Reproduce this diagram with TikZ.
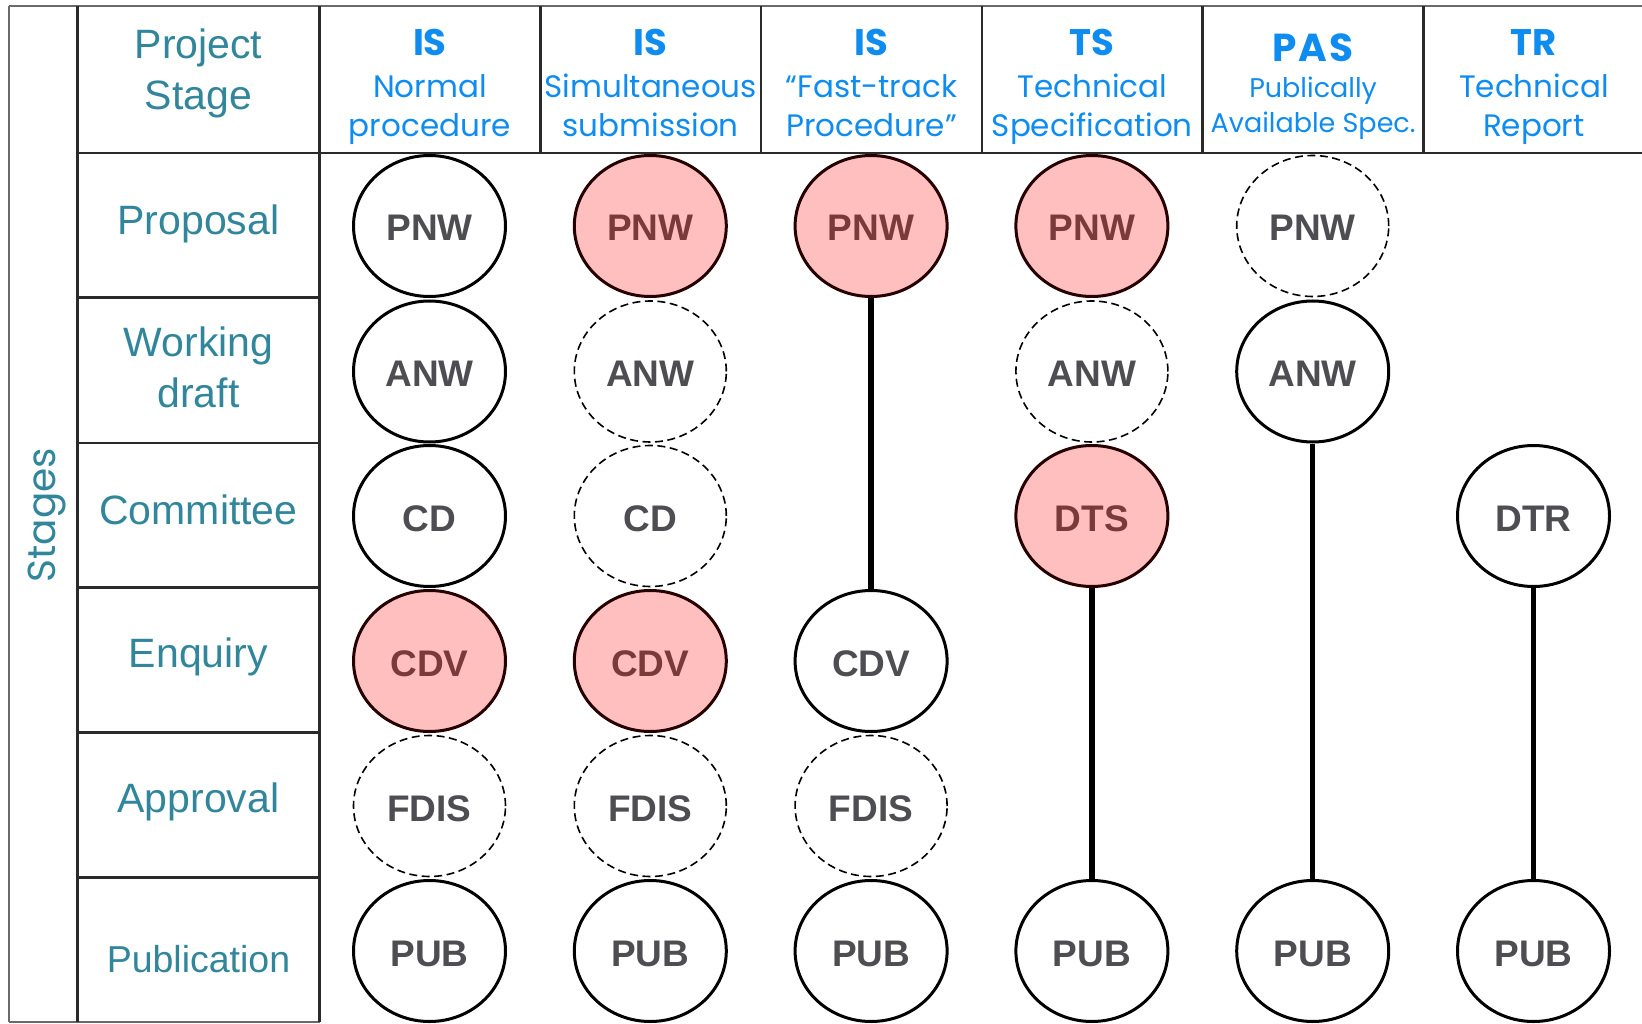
\documentclass[tikz,border=0pt]{standalone}
\usepackage{fontspec}
\setmainfont{Liberation Sans}
\newfontfamily\geo{Poppins}
\usetikzlibrary{shapes.geometric}

\definecolor{stageteal}{HTML}{31869B}
\definecolor{headblue}{HTML}{0F8CF0}
\definecolor{pinkfill}{HTML}{FFBFBF}
\definecolor{pinktext}{HTML}{7A3A3C}
\definecolor{circtext}{HTML}{4E4E52}
\definecolor{rulecol}{HTML}{2A2A2A}
\definecolor{framecol}{HTML}{6A6A6A}

\begin{document}
\begin{tikzpicture}[x=1pt,y=-1pt,
  frame/.style={draw=framecol,line width=2},
  rule/.style={draw=rulecol,line width=2.6},
  stagelabel/.style={anchor=base,text=stageteal,inner sep=0,font=\fontsize{41}{41}\selectfont},
  kind/.style={anchor=base,text=headblue,inner sep=0,font=\geo\bfseries\fontsize{37}{37}\selectfont},
  kinddesc/.style={anchor=base,text=headblue,inner sep=0,font=\geo\fontsize{31}{31}\selectfont},
  doc/.style={ellipse,minimum width=152,minimum height=141,inner sep=0,
    text height=30,text depth=0pt,
    font=\bfseries\fontsize{37}{37}\selectfont,text=circtext},
  req/.style={doc,draw=black,line width=3,fill=white},
  key/.style={doc,draw=black!85!red,line width=3,fill=pinkfill,text=pinktext},
  opt/.style={doc,draw=black,line width=1.6,dash pattern=on 8pt off 4.5pt,fill=white},
  link/.style={draw=black,line width=5.5}]
\useasboundingbox (0,0) rectangle (1642,1024);
\fill[white] (0,0) rectangle (1642,1024);

% table frame and rules
\draw[frame] (8.5,6.5) -- (1642,6.5);
\draw[frame] (8.5,6.5) -- (8.5,1022);
\draw[frame] (8.5,1022) -- (319.5,1022);
\draw[rule] (77.5,6.5) -- (77.5,1022);
\draw[rule] (319.5,6.5) -- (319.5,1022);
\foreach \x in {540.3,761.1,981.9,1202.7,1423.5}
  \draw[rule] (\x,6.5) -- (\x,153);
\draw[rule] (77.5,153) -- (1642,153);
\foreach \y in {297.6,442.8,587.6,732.6,877.4}
  \draw[rule] (77.5,\y) -- (319.5,\y);

% side label
\node[text=stageteal,inner sep=0,rotate=90,font=\geo\fontsize{39}{39}\selectfont] (stages) at (47,515) {Stages};

% row labels
\node[stagelabel] (projA) at (198.5,59) {Project};
\node[stagelabel] (projB) at (198.5,110) {Stage};
\node[stagelabel] (rowP) at (198.5,235) {Proposal};
\node[stagelabel] (rowWa) at (198.5,356) {Working};
\node[stagelabel] (rowWb) at (198.5,407) {draft};
\node[stagelabel] (rowC) at (198.5,524) {Committee};
\node[stagelabel] (rowE) at (198.5,667) {Enquiry};
\node[stagelabel] (rowA) at (198.5,812) {Approval};
\node[stagelabel,font=\fontsize{37.5}{37.5}\selectfont] (rowPub) at (198.5,972) {Publication};

% column headings
\node[kind] (h1a) at (429.9,56) {IS};
\node[kinddesc] (h1b) at (429.9,98) {Normal};
\node[kinddesc] (h1c) at (429.9,137) {procedure};
\node[kind] (h2a) at (650.7,56) {IS};
\node[kinddesc] (h2b) at (650.7,98) {Simultaneous};
\node[kinddesc] (h2c) at (650.7,137) {submission};
\node[kind] (h3a) at (871.5,56) {IS};
\node[kinddesc] (h3b) at (871.5,98) {“Fast-track};
\node[kinddesc] (h3c) at (871.5,137) {Procedure”};
\node[kind] (h4a) at (1092.3,56) {TS};
\node[kinddesc] (h4b) at (1092.3,98) {Technical};
\node[kinddesc] (h4c) at (1092.3,137) {Specification};
\node[kind,font=\geo\bfseries\fontsize{39}{39}\selectfont] (h5a) at (1313.1,62) {P\kern2ptA\kern2ptS};
\node[kinddesc,font=\geo\fontsize{27}{27}\selectfont] (h5b) at (1313.1,98) {Publically};
\node[kinddesc,font=\geo\fontsize{27}{27}\selectfont] (h5c) at (1313.1,133) {Available Spec.};
\node[kind] (h6a) at (1533.9,56) {TR};
\node[kinddesc] (h6b) at (1533.9,98) {Technical};
\node[kinddesc] (h6c) at (1533.9,137) {Report};

% IS normal procedure
\node[req] (normPNW) at (429.5,226) {PNW};
\node[req] (normANW) at (429.5,371.5) {ANW};
\node[req] (normCD)  at (429.5,516) {CD};
\node[key] (normCDV) at (429.5,661) {CDV};
\node[opt] (normFDIS) at (429.5,806) {FDIS};
\node[req] (normPUB) at (429.5,951) {PUB};

% IS simultaneous submission
\node[key] (simPNW) at (650.3,226) {PNW};
\node[opt] (simANW) at (650.3,371.5) {ANW};
\node[opt] (simCD)  at (650.3,516) {CD};
\node[key] (simCDV) at (650.3,661) {CDV};
\node[opt] (simFDIS) at (650.3,806) {FDIS};
\node[req] (simPUB) at (650.3,951) {PUB};

% IS fast-track procedure
\node[key] (fastPNW) at (871.1,226) {PNW};
\node[req] (fastCDV) at (871.1,661) {CDV};
\node[opt] (fastFDIS) at (871.1,806) {FDIS};
\node[req] (fastPUB) at (871.1,951) {PUB};

% Technical Specification
\node[key] (tsPNW) at (1091.9,226) {PNW};
\node[opt] (tsANW) at (1091.9,371.5) {ANW};
\node[key] (tsDTS) at (1091.9,516) {DTS};
\node[req] (tsPUB) at (1091.9,951) {PUB};

% Publicly Available Specification
\node[opt] (pasPNW) at (1312.7,226) {PNW};
\node[req] (pasANW) at (1312.7,371.5) {ANW};
\node[req] (pasPUB) at (1312.7,951) {PUB};

% Technical Report
\node[req] (trDTR) at (1533.5,516) {DTR};
\node[req] (trPUB) at (1533.5,951) {PUB};

% skipped stages
\draw[link] (fastPNW.south) -- (fastCDV.north);
\draw[link] (tsDTS.south) -- (tsPUB.north);
\draw[link] (pasANW.south) -- (pasPUB.north);
\draw[link] (trDTR.south) -- (trPUB.north);
\end{tikzpicture}
\end{document}
